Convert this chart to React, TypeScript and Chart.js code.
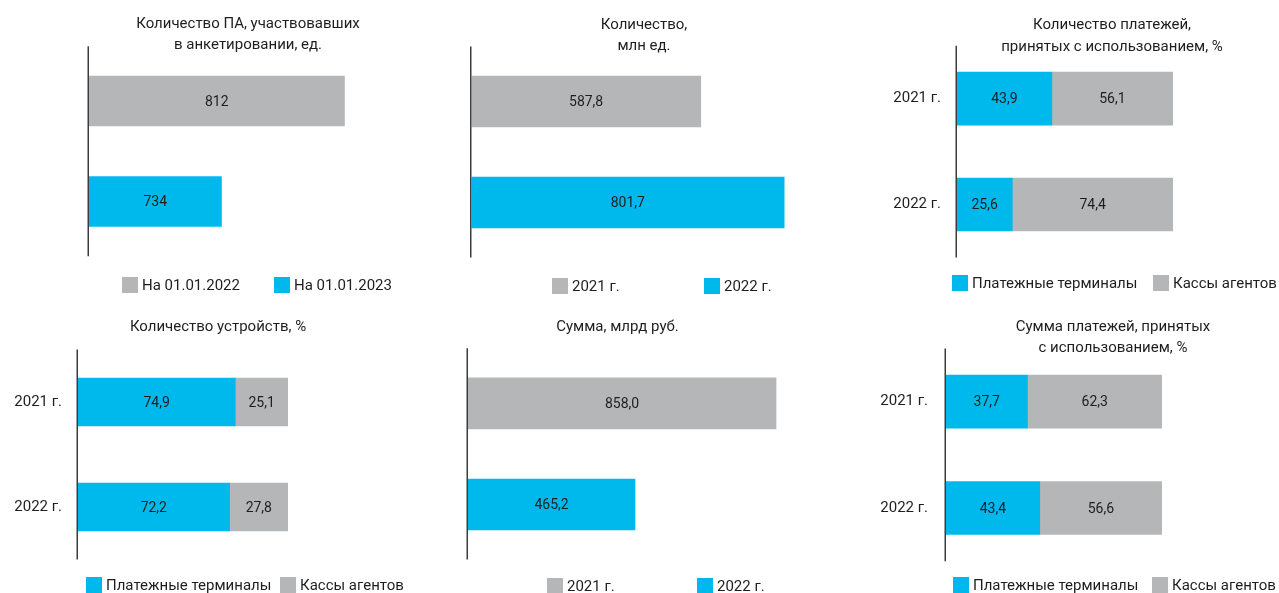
import React, { useEffect, useRef } from "react";
import { Chart, registerables } from "chart.js";

Chart.register(...registerables);

// ---------- data ----------
const p1Categories = ["На 01.01.2022", "На 01.01.2023"];
const p1Values = [812, 734];

const yearCategories = ["2021 г.", "2022 г."];
const p2Values = [587.8, 801.7];
const p5Values = [858.0, 465.2];

const seriesNames = ["Платежные терминалы", "Кассы агентов"];
const p3Terminals = [43.9, 25.6];
const p3Agents = [56.1, 74.4];
const p4Terminals = [74.9, 72.2];
const p4Agents = [25.1, 27.8];
const p6Terminals = [37.7, 43.4];
const p6Agents = [62.3, 56.6];

const p1Title = ["Количество ПА, участвовавших", "в анкетировании, ед."];
const p2Title = ["Количество,", "млн ед."];
const p3Title = ["Количество платежей,", "принятых с использованием, %"];
const p4Title = ["Количество устройств, %"];
const p5Title = ["Сумма, млрд руб."];
const p6Title = ["Сумма платежей, принятых", "с использованием, %"];

// ---------- styles ----------
const CYAN = "#00b9ec";
const GRAY = "#b5b6b8";
const TEXT = "#1e1e1e";
const FONT = "Roboto, 'Noto Sans', 'DejaVu Sans', sans-serif";

type Rect = { left: number; top: number; width: number; height: number };

type PanelProps = {
  canvas: Rect;
  area: Rect;
  yW: number;
  tickPad: number;
  showTicks: boolean;
  labels: string[];
  datasets: any[];
  stacked: boolean;
  xMin: number;
  xMax: number;
  barThickness: number;
  decimals: number;
  lineExt: number;
};

function fmt(v: number, d: number) {
  return v.toFixed(d).replace(".", ",");
}

function Panel(p: PanelProps) {
  const ref = useRef<HTMLCanvasElement | null>(null);
  useEffect(() => {
    if (!ref.current) return;
    const valueLabels = {
      id: "valueLabels",
      afterDatasetsDraw(chart: any) {
        const ctx = chart.ctx;
        const area = chart.chartArea;
        ctx.save();
        ctx.font = `14px ${FONT}`;
        ctx.fillStyle = TEXT;
        ctx.textAlign = "center";
        ctx.textBaseline = "middle";
        chart.data.datasets.forEach((ds: any, di: number) => {
          const meta = chart.getDatasetMeta(di);
          meta.data.forEach((el: any, i: number) => {
            const v = ds.data[i];
            if (v == null) return;
            const { x, y, base } = el.getProps(["x", "y", "base"], true);
            const b = Math.max(base, area.left);
            const e = Math.min(x, area.right);
            ctx.fillText(fmt(v, p.decimals), (e + b) / 2, y + 1);
          });
        });
        ctx.restore();
      },
    };
    const axisLine = {
      id: "axisLine",
      afterDraw(chart: any) {
        const { ctx, chartArea } = chart;
        ctx.save();
        ctx.strokeStyle = "#3c3c3c";
        ctx.lineWidth = 1.5;
        ctx.beginPath();
        const x = chartArea.left - 0.75;
        ctx.moveTo(x, chartArea.top - p.lineExt);
        ctx.lineTo(x, chartArea.bottom + p.lineExt);
        ctx.stroke();
        ctx.restore();
      },
    };
    const c = p.canvas;
    const a = p.area;
    const chart = new Chart(ref.current, {
      type: "bar",
      data: { labels: p.labels, datasets: p.datasets },
      options: {
        indexAxis: "y",
        responsive: false,
        animation: false,
        layout: {
          padding: {
            left: a.left - c.left - p.yW,
            top: a.top - c.top,
            right: c.left + c.width - (a.left + a.width),
            bottom: c.top + c.height - (a.top + a.height),
          },
        },
        datasets: {
          bar: {
            barThickness: p.barThickness,
            categoryPercentage: 1,
            barPercentage: 1,
            borderWidth: 0,
          },
        },
        plugins: {
          legend: { display: false },
          title: { display: false },
          tooltip: { enabled: false },
        },
        scales: {
          x: { display: false, min: p.xMin, max: p.xMax, stacked: p.stacked },
          y: {
            stacked: p.stacked,
            grid: { display: false, drawTicks: false },
            border: { display: false },
            ticks: {
              display: p.showTicks,
              padding: p.tickPad,
              color: TEXT,
              font: { family: FONT, size: 15 },
            },
            afterFit: (s: any) => {
              s.width = p.yW;
            },
          },
        },
      } as any,
      plugins: [valueLabels, axisLine],
    });
    return () => chart.destroy();
  }, []);
  return (
    <canvas
      ref={ref}
      width={p.canvas.width}
      height={p.canvas.height}
      style={{
        position: "absolute",
        left: p.canvas.left,
        top: p.canvas.top,
        width: p.canvas.width,
        height: p.canvas.height,
      }}
    />
  );
}

function Title({ lines, cx, top, lh }: { lines: string[]; cx: number; top: number; lh: number }) {
  return (
    <div
      style={{
        position: "absolute",
        left: cx - 200,
        width: 400,
        top,
        textAlign: "center",
        fontSize: 15,
        lineHeight: `${lh}px`,
        color: TEXT,
        whiteSpace: "nowrap",
      }}
    >
      {lines.map((l, i) => (
        <div key={i}>{l}</div>
      ))}
    </div>
  );
}

function LegendItem({ x, cy, color, text }: { x: number; cy: number; color: string; text: string }) {
  return (
    <div
      style={{
        position: "absolute",
        left: x,
        top: cy - 10,
        height: 20,
        display: "flex",
        alignItems: "center",
        whiteSpace: "nowrap",
        fontSize: 15,
        color: TEXT,
      }}
    >
      <span style={{ display: "inline-block", width: 16, height: 16, background: color, marginRight: 4 }} />
      <span>{text}</span>
    </div>
  );
}

const TOP_ROW = { top: 0, height: 300 };
const BOTTOM_ROW = { top: 300, height: 293 };

export default function App() {
  const single = (values: number[], colors: string[]) => [
    { label: "values", data: values, backgroundColor: colors },
  ];
  const pair = (t: number[], g: number[]) => [
    { label: seriesNames[0], data: t, backgroundColor: CYAN },
    { label: seriesNames[1], data: g, backgroundColor: GRAY },
  ];
  return (
    <div
      style={{
        position: "absolute",
        left: 0,
        top: 0,
        width: 1279,
        height: 593,
        overflow: "hidden",
        background: "#fff",
        fontFamily: FONT,
      }}
    >
      {/* Panel 1 */}
      <Panel
        canvas={{ left: 0, width: 440, ...TOP_ROW }}
        area={{ left: 89, top: 50.75, width: 315.4, height: 201 }}
        yW={0}
        tickPad={0}
        showTicks={false}
        labels={p1Categories}
        datasets={single(p1Values, [GRAY, CYAN])}
        stacked={false}
        xMin={650}
        xMax={850}
        barThickness={50}
        decimals={0}
        lineExt={4.5}
      />
      <Title lines={p1Title} cx={248} top={13} lh={21} />
      <LegendItem x={122} cy={285} color={GRAY} text={p1Categories[0]} />
      <LegendItem x={274} cy={285} color={CYAN} text={p1Categories[1]} />

      {/* Panel 2 */}
      <Panel
        canvas={{ left: 440, width: 420, ...TOP_ROW }}
        area={{ left: 471.5, top: 51, width: 351, height: 202 }}
        yW={0}
        tickPad={0}
        showTicks={false}
        labels={yearCategories}
        datasets={single(p2Values, [GRAY, CYAN])}
        stacked={false}
        xMin={0}
        xMax={900}
        barThickness={51}
        decimals={1}
        lineExt={4.5}
      />
      <Title lines={p2Title} cx={644} top={14} lh={21} />
      <LegendItem x={552} cy={286} color={GRAY} text={yearCategories[0]} />
      <LegendItem x={704} cy={286} color={CYAN} text={yearCategories[1]} />

      {/* Panel 3 */}
      <Panel
        canvas={{ left: 860, width: 419, ...TOP_ROW }}
        area={{ left: 957, top: 45.8, width: 216, height: 211.6 }}
        yW={97}
        tickPad={16}
        showTicks={true}
        labels={yearCategories}
        datasets={pair(p3Terminals, p3Agents)}
        stacked={true}
        xMin={0}
        xMax={100}
        barThickness={53}
        decimals={1}
        lineExt={0}
      />
      <Title lines={p3Title} cx={1112} top={13} lh={22} />
      <LegendItem x={952} cy={283} color={CYAN} text={seriesNames[0]} />
      <LegendItem x={1153} cy={283} color={GRAY} text={seriesNames[1]} />

      {/* Panel 4 */}
      <Panel
        canvas={{ left: 0, width: 440, ...BOTTOM_ROW }}
        area={{ left: 78, top: 349.5, width: 210, height: 210 }}
        yW={78}
        tickPad={16}
        showTicks={true}
        labels={yearCategories}
        datasets={pair(p4Terminals, p4Agents)}
        stacked={true}
        xMin={0}
        xMax={100}
        barThickness={48}
        decimals={1}
        lineExt={0}
      />
      <Title lines={p4Title} cx={218} top={315.5} lh={21} />
      <LegendItem x={86} cy={585} color={CYAN} text={seriesNames[0]} />
      <LegendItem x={280} cy={585} color={GRAY} text={seriesNames[1]} />

      {/* Panel 5 */}
      <Panel
        canvas={{ left: 440, width: 420, ...BOTTOM_ROW }}
        area={{ left: 468, top: 352.7, width: 359, height: 202.4 }}
        yW={0}
        tickPad={0}
        showTicks={false}
        labels={yearCategories}
        datasets={single(p5Values, [GRAY, CYAN])}
        stacked={false}
        xMin={0}
        xMax={1000}
        barThickness={51}
        decimals={1}
        lineExt={4.4}
      />
      <Title lines={p5Title} cx={617.5} top={315.5} lh={21} />
      <LegendItem x={547} cy={586} color={GRAY} text={yearCategories[0]} />
      <LegendItem x={697} cy={586} color={CYAN} text={yearCategories[1]} />

      {/* Panel 6 */}
      <Panel
        canvas={{ left: 860, width: 419, ...BOTTOM_ROW }}
        area={{ left: 946, top: 348.5, width: 216, height: 212.7 }}
        yW={86}
        tickPad={18}
        showTicks={true}
        labels={yearCategories}
        datasets={pair(p6Terminals, p6Agents)}
        stacked={true}
        xMin={0}
        xMax={100}
        barThickness={53}
        decimals={1}
        lineExt={0}
      />
      <Title lines={p6Title} cx={1113} top={315.5} lh={21} />
      <LegendItem x={953} cy={585} color={CYAN} text={seriesNames[0]} />
      <LegendItem x={1152} cy={585} color={GRAY} text={seriesNames[1]} />
    </div>
  );
}
